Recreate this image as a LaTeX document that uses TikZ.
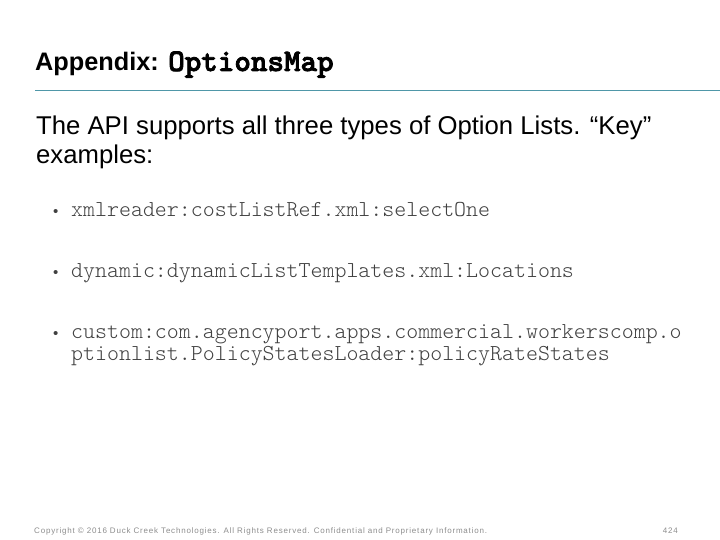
\documentclass[tikz,border=0pt]{standalone}
\usepackage{fontspec}
\setmainfont{Liberation Sans}
\newfontfamily\monofin{Latin Modern Mono Light}
\newfontfamily\monogras{lmmonolt10-bold.otf}[FakeBold=2.5]
\usepackage{tikz}
\definecolor{regle}{HTML}{4F97A8}
\definecolor{puce}{HTML}{404040}
\definecolor{pied}{HTML}{8C8C8C}
\tikzstyle{titre} = [anchor=base west, inner sep=0pt, font=\fontsize{25.3}{28}\selectfont\bfseries]
\tikzstyle{corps} = [anchor=base west, inner sep=0pt, font=\fontsize{25.7}{28}\selectfont]
\tikzstyle{exemple} = [anchor=base west, inner sep=0pt, text=puce, font=\fontsize{22.8}{25}\selectfont\monofin]
\tikzstyle{bulle} = [anchor=base west, inner sep=0pt, text=puce, font=\fontsize{15}{16}\selectfont]
\tikzstyle{bas} = [anchor=base west, inner sep=0pt, text=pied, font=\fontsize{8}{9}\selectfont\addfontfeature{LetterSpace=10}]

\begin{document}
\begin{tikzpicture}[x=1pt,y=-1pt]

        \useasboundingbox (0,0) rectangle (720,540);

        \node (T) [titre] at (35,71) {Appendix: {\fontsize{31.5}{32}\selectfont\monogras OptionsMap}};
        \coordinate (R1) at (35,90.5);
        \coordinate (R2) at (720,90.5);
        \draw[regle, line width=1pt] (R1) -- (R2);

        \node (L1) [corps] at (36,135) {The API supports all three types of Option Lists. “Key”};
        \node (L2) [corps] at (36,164) {examples:};

        \node (P1) [bulle] at (53,217) {\textbullet};
        \node (E1) [exemple] at (71,217) {xmlreader:costListRef.xml:selectOne};
        \node (P2) [bulle] at (53,277) {\textbullet};
        \node (E2) [exemple] at (71,277) {dynamic:dynamicListTemplates.xml:Locations};
        \node (P3) [bulle] at (53,338) {\textbullet};
        \node (E3) [exemple] at (71,338) {custom:com.agencyport.apps.commercial.workerscomp.o};
        \node (E4) [exemple] at (71,360) {ptionlist.PolicyStatesLoader:policyRateStates};

        \node (C) [bas] at (34,533) {Copyright © 2016 Duck Creek Technologies. All Rights Reserved. Confidential and Proprietary Information.};
        \node (N) [bas, anchor=base east] at (678,533) {424};

    \end{tikzpicture}
\end{document}
